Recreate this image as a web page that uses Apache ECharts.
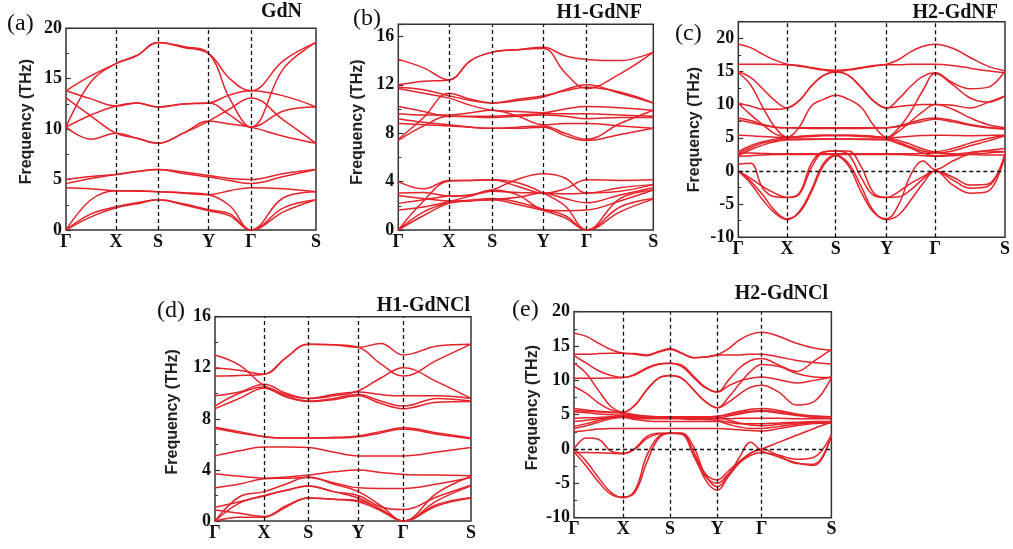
<!DOCTYPE html>
<html>
<head>
<meta charset="utf-8">
<script src="https://cdn.jsdelivr.net/npm/echarts@6/dist/echarts.min.js"></script>
<style>
  html, body { margin: 0; padding: 0; background: #fff; }
  #chart { width: 1013px; height: 549px; }
</style>
</head>
<body>
<div id="chart"></div>
<script>
// High-symmetry path labels, shared by all panels
const kLabels = ['Γ', 'X', 'S', 'Y', 'Γ', 'S'];

// Path length (k-distance) of each high-symmetry point, per panel
const kPathA = [0, 50, 92, 142.7, 185, 250];
const kPathB = [0, 50.7, 94, 145, 188.4, 255];
const kPathC = [0, 49, 97.7, 149, 197.7, 267.7];
const kPathD = [0, 49, 93.3, 143.3, 188.3, 256];
const kPathE = [0, 49.3, 96, 143.3, 187.7, 257.4];

// Phonon bands (THz). Each band lists frequencies at every high-symmetry point
// and at evenly spaced points inside each of the five path segments.

// GdN: 2 samples per segment (point, midpoint)
const bandsA = [
  [0, 1.3, 2.2, 2.6, 3.0, 2.5, 1.9, 1.4, 0, 1.8, 3.0],
  [0, 1.6, 2.3, 2.7, 3.0, 2.6, 2.0, 1.6, 0, 2.2, 3.0],
  [0, 3.0, 3.9, 3.9, 3.8, 3.7, 3.5, 2.4, 0, 3.2, 3.8],
  [4.2, 4.1, 3.9, 3.85, 3.8, 3.65, 3.5, 3.9, 4.2, 4.1, 3.8],
  [4.6, 5.1, 5.5, 5.8, 6.0, 5.6, 5.25, 4.9, 4.6, 5.3, 6.0],
  [5.0, 5.3, 5.5, 5.8, 6.0, 5.75, 5.4, 5.1, 5.0, 5.6, 6.0],
  [10.2, 9.0, 9.6, 9.1, 8.6, 9.6, 10.8, 10.5, 10.2, 9.3, 8.6],
  [13.1, 11.3, 9.6, 9.1, 8.6, 9.6, 10.8, 12.0, 13.1, 10.9, 8.6],
  [10.2, 11.4, 12.3, 12.6, 12.2, 12.5, 12.6, 11.4, 10.2, 11.8, 12.2],
  [13.8, 13.0, 12.3, 12.6, 12.2, 12.5, 12.6, 13.4, 13.8, 13.3, 12.2],
  [10.2, 14.7, 16.5, 17.3, 18.6, 18.2, 17.5, 13.0, 10.2, 16.0, 18.6],
  [13.8, 15.3, 16.5, 17.3, 18.6, 18.1, 17.5, 15.0, 13.8, 16.8, 18.6]
];

// H1-GdNF: 2 samples per segment
const bandsB = [
  [0, 1.2, 2.2, 2.4, 2.5, 2.1, 1.6, 1.0, 0, 1.5, 2.55],
  [0, 1.5, 2.25, 2.45, 2.6, 2.3, 1.7, 1.2, 0, 1.9, 2.6],
  [0, 2.4, 4.05, 4.1, 4.15, 3.9, 3.05, 2.0, 0, 2.6, 3.3],
  [1.65, 1.9, 2.35, 2.8, 3.3, 2.9, 1.7, 1.6, 1.65, 2.4, 3.3],
  [2.2, 2.5, 2.8, 2.9, 3.3, 4.2, 4.65, 4.3, 3.05, 3.5, 3.75],
  [2.85, 2.6, 2.4, 2.45, 2.5, 2.7, 3.05, 3.0, 3.05, 3.2, 3.75],
  [3.05, 3.1, 2.8, 2.9, 3.2, 3.1, 3.05, 2.6, 2.25, 2.9, 3.5],
  [4.0, 3.4, 4.1, 4.1, 4.15, 3.6, 3.05, 3.4, 4.15, 4.1, 4.15],
  [7.4, 8.6, 9.4, 9.35, 9.3, 9.4, 9.5, 9.4, 9.2, 9.3, 9.3],
  [7.5, 9.3, 11.3, 10.8, 10.5, 10.7, 11.0, 11.6, 12.0, 11.3, 10.5],
  [8.8, 8.7, 8.6, 8.5, 8.4, 8.4, 8.5, 7.8, 7.4, 7.9, 8.4],
  [9.2, 8.9, 8.7, 8.5, 8.4, 8.5, 8.6, 8.0, 7.5, 8.8, 9.9],
  [9.6, 9.5, 9.5, 9.7, 9.9, 9.4, 8.7, 8.8, 8.8, 8.6, 8.4],
  [10.2, 9.8, 9.4, 9.4, 9.4, 9.5, 9.6, 9.6, 9.6, 9.5, 9.4],
  [11.7, 11.3, 10.9, 10.3, 9.9, 9.8, 9.7, 10.0, 10.2, 10.1, 9.9],
  [11.8, 11.6, 11.1, 10.7, 10.5, 10.8, 11.1, 11.5, 11.8, 11.4, 10.5],
  [12.0, 12.3, 12.4, 14.0, 14.7, 14.9, 15.0, 13.0, 11.7, 12.9, 14.7],
  [14.1, 13.4, 12.4, 14.0, 14.7, 14.9, 15.1, 14.4, 14.1, 14.0, 14.7]
];

// H2-GdNF: 4 samples per segment
const bandsC = [
  [19.1, 18.6, 17.6, 16.7, 16.1, 15.9, 15.6, 15.3, 15.2, 15.3, 15.6, 15.9, 16.1, 16.8, 18.0, 18.8, 19.1, 18.5, 17.1, 15.8, 15.1],
  [16.1, 16.1, 16.1, 16.1, 16.0, 15.8, 15.5, 15.2, 15.0, 15.2, 15.5, 15.8, 16.0, 16.0, 16.1, 16.1, 16.1, 15.9, 15.5, 15.1, 14.8],
  [15.0, 14.1, 12.4, 10.6, 9.5, 10.6, 12.8, 14.4, 14.9, 14.4, 12.6, 10.5, 9.5, 10.9, 12.8, 14.3, 14.8, 13.3, 12.4, 12.6, 15.1],
  [14.8, 13.0, 9.6, 6.6, 5.1, 6.6, 9.8, 10.8, 11.4, 10.8, 9.6, 6.8, 5.1, 6.5, 9.0, 12.2, 14.7, 13.0, 11.0, 10.4, 11.3],
  [10.2, 9.8, 9.3, 9.3, 9.5, 10.6, 12.8, 14.4, 14.9, 14.4, 12.6, 10.5, 9.5, 9.7, 9.9, 10.0, 10.0, 9.9, 9.5, 10.3, 11.3],
  [10.2, 8.5, 7.0, 5.6, 5.1, 5.2, 5.3, 5.4, 5.4, 5.4, 5.3, 5.2, 5.0, 6.0, 7.5, 9.0, 10.0, 9.3, 8.0, 7.0, 6.5],
  [8.0, 7.6, 7.0, 6.6, 6.5, 6.5, 6.5, 6.5, 6.5, 6.5, 6.5, 6.5, 6.5, 6.8, 7.3, 7.8, 8.0, 7.6, 7.0, 6.6, 6.4],
  [7.7, 7.3, 6.9, 6.6, 6.5, 6.45, 6.4, 6.4, 6.4, 6.4, 6.4, 6.45, 6.5, 6.7, 7.1, 7.5, 7.8, 7.4, 6.9, 6.5, 6.3],
  [5.4, 5.3, 5.2, 5.1, 5.0, 5.2, 5.35, 5.4, 5.4, 5.4, 5.35, 5.2, 5.0, 5.1, 5.25, 5.35, 5.4, 5.35, 5.3, 5.35, 5.4],
  [2.9, 3.8, 4.4, 4.8, 5.0, 5.1, 5.2, 5.3, 5.3, 5.3, 5.2, 5.1, 5.0, 4.6, 4.0, 3.3, 2.9, 3.4, 4.2, 4.9, 5.4],
  [2.6, 3.5, 4.2, 4.6, 4.8, 4.8, 4.8, 4.8, 4.8, 4.8, 4.8, 4.8, 4.8, 4.3, 3.6, 3.0, 2.7, 3.0, 3.8, 4.5, 5.3],
  [2.7, 2.7, 2.65, 2.6, 2.6, 2.6, 2.6, 2.6, 2.6, 2.6, 2.6, 2.6, 2.6, 2.6, 2.6, 2.65, 2.7, 2.6, 2.5, 2.4, 2.4],
  [2.2, 2.3, 2.4, 2.5, 2.5, 2.5, 2.5, 2.5, 2.5, 2.5, 2.5, 2.5, 2.5, 2.5, 2.4, 2.3, 2.2, 2.3, 2.5, 2.7, 2.9],
  [2.3, 3.2, 3.9, 4.4, 4.65, 4.7, 4.75, 4.8, 4.8, 4.8, 4.75, 4.7, 4.65, 4.1, 3.4, 2.7, 2.3, 2.5, 2.8, 3.0, 2.9],
  [0, -1.1, -2.35, -3.35, -4.0, -3.35, 1.15, 2.9, 3.0, 3.0, 0.65, -3.35, -4.0, -3.1, -1.85, -0.85, 0, -1.35, -2.6, -2.35, 2.4],
  [0, -1.85, -4.35, -6.35, -7.35, -6.1, -2.85, 1.15, 2.4, 1.15, -2.35, -6.1, -7.35, -6.6, -4.35, -1.85, 0, -2.1, -3.35, -3.1, 2.4],
  [0, -1.5, -3.6, -6.0, -7.2, -6.3, -3.2, 0.8, 2.3, 0.8, -3.2, -6.3, -7.2, -5.0, -0.5, 1.5, 0.2, 1.5, 2.6, 3.1, 3.4],
  [1.0, 1.15, -2.6, -3.9, -4.0, -3.5, 0.5, 2.8, 3.0, 2.5, -1.0, -3.7, -4.0, -3.9, -2.8, -1.2, 0, -0.9, -2.1, -2.0, 2.6]
];

// H1-GdNCl: 2 samples per segment
const bandsD = [
  [13.0, 12.2, 10.6, 9.9, 9.6, 9.8, 10.2, 11.2, 12.0, 10.9, 9.6],
  [12.0, 11.8, 11.5, 12.8, 13.85, 13.8, 13.6, 13.9, 13.0, 13.7, 13.85],
  [11.35, 11.4, 11.5, 12.8, 13.85, 13.8, 13.6, 12.3, 11.35, 12.6, 13.85],
  [9.8, 10.1, 10.7, 10.0, 9.6, 9.9, 10.1, 9.9, 9.8, 9.8, 9.6],
  [9.0, 10.0, 10.5, 9.8, 9.4, 9.6, 9.9, 9.4, 9.0, 9.6, 9.4],
  [8.8, 9.6, 10.4, 9.7, 9.35, 9.5, 9.8, 9.2, 8.8, 9.3, 9.35],
  [7.35, 7.0, 6.6, 6.5, 6.5, 6.55, 6.65, 7.0, 7.3, 6.9, 6.5],
  [7.25, 6.9, 6.6, 6.5, 6.5, 6.5, 6.6, 6.9, 7.2, 6.8, 6.45],
  [5.1, 5.5, 5.8, 5.8, 5.75, 5.4, 5.1, 5.1, 5.1, 5.4, 5.75],
  [3.7, 3.5, 3.35, 3.45, 3.6, 3.85, 4.0, 3.8, 3.65, 3.6, 3.55],
  [2.6, 2.9, 3.3, 3.35, 3.4, 3.0, 2.6, 2.55, 2.55, 2.9, 3.4],
  [0, 1.9, 2.3, 2.9, 3.45, 2.9, 2.3, 1.2, 0, 2.2, 3.5],
  [0, 1.4, 1.95, 2.4, 2.75, 2.3, 1.8, 0.9, 0, 1.6, 2.75],
  [1.07, 1.5, 2.0, 2.4, 2.75, 2.3, 2.0, 1.1, 0.9, 1.9, 2.8],
  [0.86, 0.6, 0.35, 1.2, 1.8, 1.7, 1.5, 0.8, 0, 1.2, 1.8],
  [0, 0.3, 0.3, 1.1, 1.8, 1.7, 1.6, 0.9, 0, 1.3, 1.85]
];

// H2-GdNCl: 4 samples per segment
const bandsE = [
  [16.85, 16.4, 15.4, 14.5, 13.95, 13.9, 13.7, 14.2, 14.65, 14.0, 13.3, 13.4, 13.7, 14.6, 15.9, 16.7, 17.0, 16.4, 15.4, 14.7, 14.4],
  [13.8, 13.8, 13.9, 13.95, 13.95, 13.8, 13.6, 14.1, 14.5, 13.9, 13.3, 13.4, 13.7, 13.7, 13.7, 13.8, 13.8, 13.4, 12.9, 12.6, 12.4],
  [13.6, 12.5, 11.4, 10.7, 10.4, 10.8, 11.7, 12.3, 12.5, 12.2, 10.6, 9.0, 8.3, 10.0, 11.8, 12.9, 13.2, 12.2, 11.3, 12.8, 14.5],
  [12.5, 11.0, 8.5, 6.2, 5.4, 6.4, 8.6, 10.3, 10.7, 10.3, 8.6, 6.9, 6.0, 7.5, 9.5, 11.3, 12.3, 12.0, 11.0, 10.5, 10.4],
  [10.3, 10.3, 10.3, 10.35, 10.4, 10.9, 11.8, 12.4, 12.5, 12.0, 10.4, 8.9, 8.3, 9.2, 9.9, 10.3, 10.5, 10.1, 9.6, 10.0, 10.5],
  [9.1, 8.1, 6.7, 5.7, 5.35, 6.4, 8.6, 10.3, 10.7, 10.3, 8.6, 6.9, 6.0, 6.8, 8.0, 9.0, 9.3, 8.25, 6.4, 6.9, 10.4],
  [5.9, 5.7, 5.5, 5.4, 5.3, 5.0, 4.8, 4.7, 4.6, 4.6, 4.6, 4.6, 4.7, 5.1, 5.5, 5.8, 5.9, 5.6, 5.1, 4.8, 4.7],
  [5.4, 5.3, 5.1, 5.0, 4.9, 4.7, 4.6, 4.5, 4.5, 4.5, 4.5, 4.5, 4.5, 4.8, 5.1, 5.4, 5.5, 5.2, 4.9, 4.6, 4.5],
  [4.5, 4.55, 4.6, 4.7, 4.8, 4.6, 4.5, 4.5, 4.5, 4.45, 4.4, 4.4, 4.4, 4.4, 4.5, 4.5, 4.5, 4.5, 4.4, 4.4, 4.4],
  [4.0, 4.2, 4.4, 4.6, 4.7, 4.5, 4.4, 4.4, 4.4, 4.4, 4.3, 4.3, 4.2, 3.9, 3.7, 3.7, 3.7, 3.8, 3.9, 4.0, 4.0],
  [3.0, 3.4, 3.9, 4.4, 4.6, 4.3, 4.1, 4.0, 4.0, 4.0, 4.0, 4.0, 4.0, 3.6, 3.2, 3.0, 3.0, 3.3, 3.6, 3.8, 3.8],
  [2.5, 2.7, 2.9, 3.0, 3.0, 3.0, 3.0, 3.0, 3.0, 3.0, 3.0, 3.0, 3.0, 2.9, 2.8, 2.7, 2.6, 3.0, 3.4, 3.7, 3.8],
  [3.3, 3.7, 4.2, 4.6, 5.0, 4.8, 4.7, 4.6, 4.6, 4.6, 4.6, 4.6, 4.6, 4.2, 3.8, 3.5, 3.4, 3.6, 3.8, 3.9, 4.0],
  [5.6, 5.5, 5.4, 5.3, 5.2, 4.9, 4.7, 4.7, 4.7, 4.7, 4.7, 4.7, 4.8, 5.0, 5.3, 5.5, 5.6, 5.4, 5.0, 4.8, 4.7],
  [0, -1.8, -4.2, -6.3, -7.1, -6.0, -1.0, 1.8, 2.3, 2.2, -0.5, -4.5, -6.0, -4.0, -2.0, -0.6, 0, -1.0, -2.1, -2.2, 2.1],
  [-0.4, -2.5, -4.8, -6.6, -7.0, -6.3, -2.0, 1.5, 2.3, 2.3, 0.3, -3.8, -5.5, -3.8, -1.2, 1.0, -0.3, -0.9, -1.5, -1.2, 2.1],
  [0, 1.6, 1.4, -0.3, -0.6, 0.1, 1.8, 2.3, 2.3, 2.3, -0.5, -3.6, -4.5, -3.2, -1.8, -0.6, 0, 1.0, 2.0, 3.0, 3.9],
  [-0.5, -0.5, -0.55, -0.6, -0.7, 0.0, 1.5, 2.2, 2.3, 2.2, -1.0, -4.0, -5.0, -3.6, -2.0, -0.9, -0.5, -1.2, -2.0, -2.4, 2.0]
];

const SERIF = '"Liberation Serif", "Times New Roman", serif';
const SANS = '"Liberation Sans", Arial, sans-serif';
const BAND_COLOR = '#e4232a';

// Panel layout and axis setup
const panels = [
  { letter: '(a)', title: 'GdN', path: kPathA, bands: bandsA, yMin: 0, yMax: 20, yStep: 5,
    box: [66, 28.3, 250, 201.7], letterAt: [7, 24], titleAt: [302, 12], nameGap: 31, namePad: 15, zeroLine: false },
  { letter: '(b)', title: 'H1-GdNF', path: kPathB, bands: bandsB, yMin: 0, yMax: 17, yStep: 4,
    box: [398.3, 24.3, 255, 205.7], letterAt: [353, 19], titleAt: [642, 12.5], nameGap: 33, namePad: 10, zeroLine: false },
  { letter: '(c)', title: 'H2-GdNF', path: kPathC, bands: bandsC, yMin: -10, yMax: 22.5, yStep: 5,
    box: [738.3, 21.7, 267.7, 215.6], letterAt: [675, 34], titleAt: [998, 12.5], nameGap: 36, namePad: 0, zeroLine: true },
  { letter: '(d)', title: 'H1-GdNCl', path: kPathD, bands: bandsD, yMin: 0, yMax: 16, yStep: 4,
    box: [215, 316.7, 256, 204.3], letterAt: [157, 311], titleAt: [470, 306], nameGap: 34, namePad: 14, zeroLine: false },
  { letter: '(e)', title: 'H2-GdNCl', path: kPathE, bands: bandsE, yMin: -10, yMax: 20, yStep: 5,
    box: [574, 311.7, 257.4, 206], letterAt: [512, 310], titleAt: [828, 294], nameGap: 33, namePad: 14, zeroLine: true }
];

// k-coordinate of every sample of a band along the path
function sampleK(path, count) {
  const perSeg = (count - 1) / (path.length - 1);
  const ks = [];
  for (let i = 0; i < count; i++) {
    const seg = Math.min(Math.floor(i / perSeg), path.length - 2);
    const t = (i - seg * perSeg) / perSeg;
    ks.push(path[seg] + t * (path[seg + 1] - path[seg]));
  }
  return ks;
}

const option = {
  animation: false,
  backgroundColor: '#fff',
  grid: [], xAxis: [], yAxis: [], series: [], graphic: []
};

panels.forEach((p, i) => {
  const [left, top, width, height] = p.box;
  option.grid.push({
    left, top, width, height, show: true,
    borderColor: '#333', borderWidth: 1.5, backgroundColor: 'transparent'
  });

  option.xAxis.push({
    type: 'value', gridIndex: i, min: 0, max: p.path[p.path.length - 1],
    axisLine: { show: false }, axisTick: { show: false }, splitLine: { show: false },
    axisLabel: {
      customValues: p.path,
      formatter: v => kLabels[p.path.indexOf(v)],
      margin: 3, fontFamily: SERIF, fontWeight: 'bold', fontSize: 18, color: '#111'
    }
  });

  option.yAxis.push({
    type: 'value', gridIndex: i, min: p.yMin, max: p.yMax, interval: p.yStep,
    axisLine: { show: false },
    axisTick: { show: true, inside: true, length: 5, lineStyle: { color: '#333', width: 1.2 } },
    minorTick: { show: true, splitNumber: 2, length: 3, lineStyle: { color: '#333', width: 1 } },
    splitLine: { show: false },
    axisLabel: {
      showMaxLabel: (p.yMax - p.yMin) % p.yStep === 0,
      margin: 4, fontFamily: SERIF, fontWeight: 'bold', fontSize: 18, color: '#111'
    },
    name: 'Frequency (THz)', nameLocation: 'middle', nameGap: p.nameGap,
    nameTextStyle: {
      fontFamily: SANS, fontWeight: 'bold', fontSize: 16, color: '#222',
      padding: [0, 0, 0, p.namePad]
    }
  });

  // Dashed guides at interior high-symmetry points (and zero frequency where negative modes exist)
  const guides = p.path.slice(1, -1).map(k => ({ xAxis: k }));
  if (p.zeroLine) guides.push({ yAxis: 0 });
  option.series.push({
    type: 'line', xAxisIndex: i, yAxisIndex: i, data: [[0, p.yMin]],
    symbol: 'none', lineStyle: { opacity: 0 }, silent: true, z: 1,
    markLine: {
      silent: true, symbol: ['none', 'none'], label: { show: false },
      lineStyle: { color: '#111', type: [4, 3], width: 1.3 },
      data: guides, animation: false
    }
  });

  p.bands.forEach(band => {
    const ks = sampleK(p.path, band.length);
    option.series.push({
      type: 'line', xAxisIndex: i, yAxisIndex: i,
      data: band.map((f, j) => [ks[j], f]),
      smooth: 0.4, symbol: 'none', silent: true, z: 2,
      lineStyle: { color: BAND_COLOR, width: 1.5 }
    });
  });

  option.graphic.push({
    type: 'text', x: p.letterAt[0], y: p.letterAt[1],
    style: {
      text: p.letter, fontFamily: SERIF, fontSize: 24, fill: '#111',
      textAlign: 'left', textVerticalAlign: 'middle', align: 'left', verticalAlign: 'middle'
    }
  });
  option.graphic.push({
    type: 'text', x: p.titleAt[0], y: p.titleAt[1],
    style: {
      text: p.title, fontFamily: SERIF, fontWeight: 'bold', fontSize: 20, fill: '#111',
      textAlign: 'right', textVerticalAlign: 'middle', align: 'right', verticalAlign: 'middle'
    }
  });
});

const chart = echarts.init(document.getElementById('chart'), null, { renderer: 'canvas' });
chart.setOption(option);
</script>
</body>
</html>
